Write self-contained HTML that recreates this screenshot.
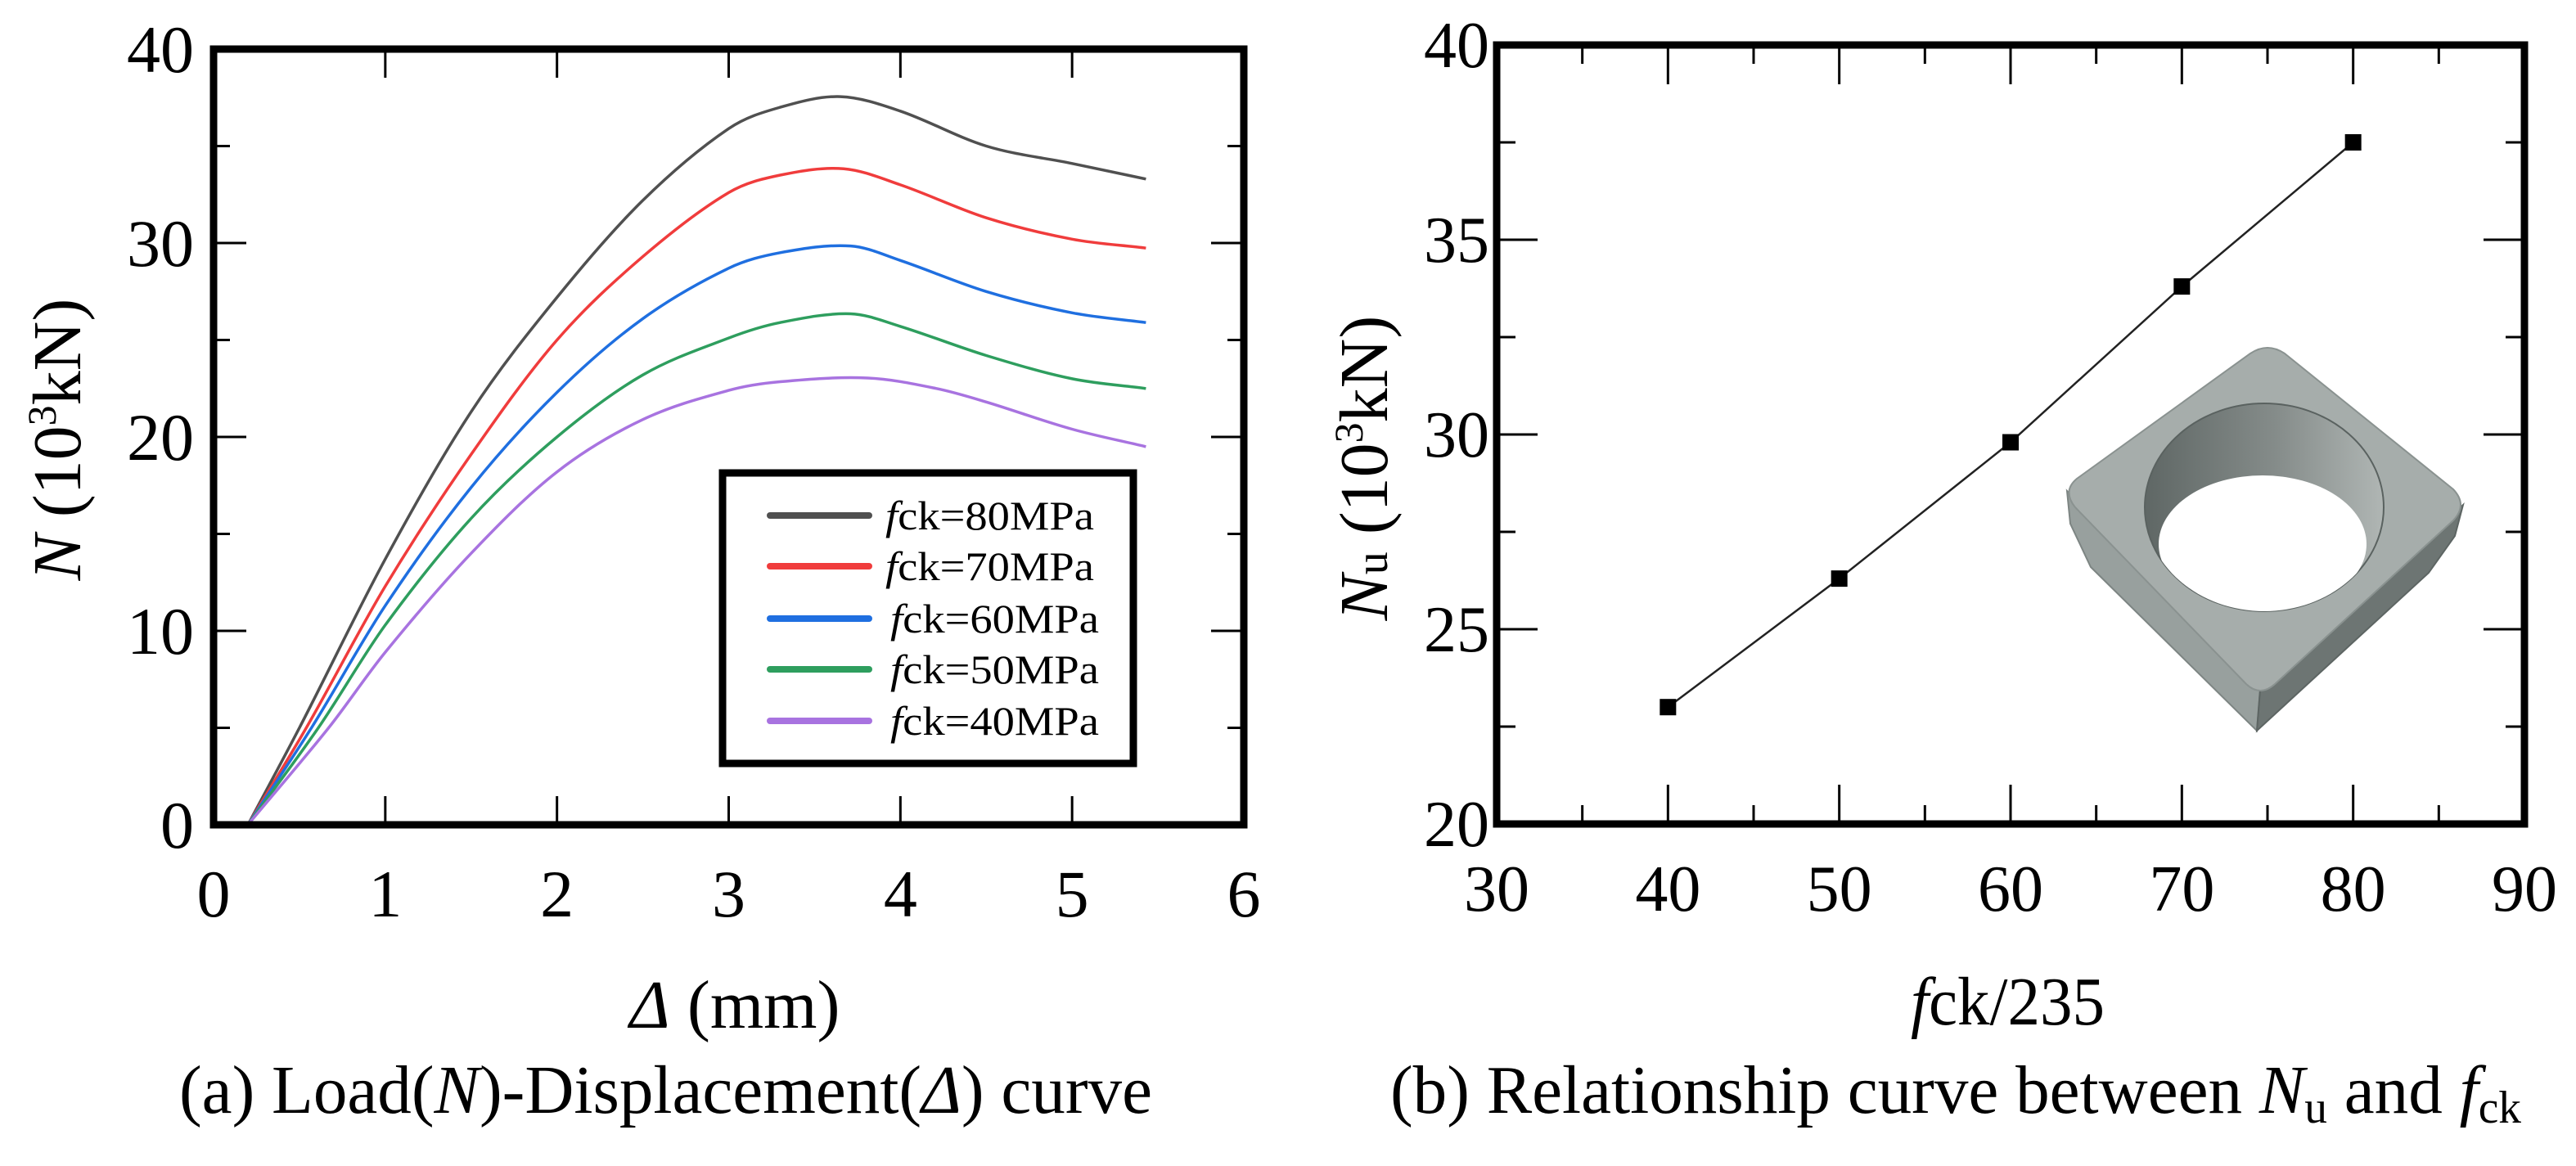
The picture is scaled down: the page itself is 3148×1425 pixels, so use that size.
<!DOCTYPE html>
<html><head><meta charset="utf-8"><style>
html,body{margin:0;padding:0;background:#fff;}
svg{display:block;font-family:"Liberation Serif","Times New Roman",serif;}
</style></head><body>
<svg id="fig" width="3148" height="1425" viewBox="0 0 3148 1425" xmlns="http://www.w3.org/2000/svg">
<g id="left"></g>
<g id="right"></g>
</svg>
<script>
// ---- Chart (a) data ----
const seriesLabels = ["80MPa","70MPa","60MPa","50MPa","40MPa"];
const seriesColors = ["#505050","#f03c3c","#1f6fe0","#2e9e5e","#a873e0"];
const xs80 = [0,0.2,0.5,1.0,1.5,2.0,2.5,3.0,3.3,3.65,4.0,4.5,5.0,5.43];
const ys80 = [0,0,5,13.7,21.3,27.2,32.2,35.9,37.0,37.55,36.8,35.0,34.1,33.3];
const xs70 = [0,0.2,0.54,1.0,1.5,2.0,2.5,3.0,3.3,3.67,4.0,4.5,5.0,5.43];
const ys70 = [0,0,5,12.3,19.1,25.0,29.3,32.6,33.5,33.83,33.0,31.3,30.2,29.74];
const xs60 = [0,0.2,0.57,1.0,1.5,2.0,2.5,3.0,3.3,3.71,4.0,4.5,5.0,5.43];
const ys60 = [0,0,5,11.3,17.4,22.3,26.1,28.7,29.5,29.85,29.1,27.5,26.4,25.9];
const xs50 = [0,0.2,0.61,1.0,1.5,2.0,2.5,3.0,3.3,3.71,4.0,4.5,5.0,5.43];
const ys50 = [0,0,5,10.3,15.8,20.0,23.2,25.1,25.9,26.35,25.7,24.2,23.0,22.5];
const xs40 = [0,0.2,0.67,1.0,1.5,2.0,2.5,3.0,3.3,3.81,4.21,4.5,5.0,5.43];
const ys40 = [0,0,5,8.9,14.0,18.2,20.9,22.4,22.85,23.04,22.5,21.8,20.4,19.5];
const xTicksA = [0,1,2,3,4,5,6];
const yTicksA = [0,10,20,30,40];
// ---- Chart (b) data ----
const fckValues = [40,50,60,70,80];
const nuValues = [23.0,26.3,29.8,33.8,37.5];
const xTicksB = [30,40,50,60,70,80,90];
const yTicksB = [20,25,30,35,40];

const NS="http://www.w3.org/2000/svg";
function mk(parent,tag,attrs){const e=document.createElementNS(NS,tag);for(const k in attrs)e.setAttribute(k,attrs[k]);parent.appendChild(e);return e;}

const AX0=261,AX1=1520,AY0=1008,AY1=60;
const xA=v=>AX0+(v-0)/6*(AX1-AX0);
const yA=v=>AY0-(v-0)/40*(AY0-AY1);
const BX0=1829,BX1=3085,BY0=1007,BY1=55;
const xB=v=>BX0+(v-30)/60*(BX1-BX0);
const yB=v=>BY0-(v-20)/20*(BY0-BY1);

const L=document.getElementById('left');
const R=document.getElementById('right');

// Catmull-Rom segments (non-uniform aware via finite differences)
function smooth(px,py){
  const n=px.length,m=new Array(n);
  for(let i=0;i<n;i++){
    const a=Math.max(0,i-1),b=Math.min(n-1,i+1);
    m[i]=(py[b]-py[a])/(px[b]-px[a]);
  }
  let s="";
  for(let i=0;i<n-1;i++){
    const h=(px[i+1]-px[i])/3;
    s+=" C"+(px[i]+h).toFixed(1)+","+(py[i]+m[i]*h).toFixed(1)+" "+(px[i+1]-h).toFixed(1)+","+(py[i+1]-m[i+1]*h).toFixed(1)+" "+px[i+1].toFixed(1)+","+py[i+1].toFixed(1);
  }
  return s;
}

// ---------- Chart (a) ----------
const allX=[xs80,xs70,xs60,xs50,xs40], allY=[ys80,ys70,ys60,ys50,ys40];
for(let s=0;s<5;s++){
  const px=allX[s].map(xA), py=allY[s].map(yA);
  const d="M"+px[0]+","+py[0]+" L"+px[1]+","+py[1]+smooth(px.slice(1),py.slice(1));
  const p=mk(L,'path',{d:d,fill:'none',stroke:seriesColors[s],'stroke-width':3.5});
  
  
}
const fa=mk(L,'rect',{x:AX0,y:AY1,width:AX1-AX0,height:AY0-AY1,fill:'none',stroke:'#000','stroke-width':9});


xTicksA.forEach(v=>{
  const x=xA(v);
  if(v>0&&v<6){
    const t1=mk(L,'line',{x1:x,y1:AY0,x2:x,y2:AY0-35,stroke:'#000','stroke-width':3});
    
    
    const t2=mk(L,'line',{x1:x,y1:AY1,x2:x,y2:AY1+35,stroke:'#000','stroke-width':3});
    
    
  }
  const tl=mk(L,'text',{x:x,y:1120,'font-size':82,'text-anchor':'middle'});
  tl.textContent=v;
  
  
});
for(let v=5;v<40;v+=5){
  const y=yA(v),len=(v%10===0)?40:20;
  const a=mk(L,'line',{x1:AX0,y1:y,x2:AX0+len,y2:y,stroke:'#000','stroke-width':3});
  
  
  const b=mk(L,'line',{x1:AX1,y1:y,x2:AX1-len,y2:y,stroke:'#000','stroke-width':3});
  
  
}
yTicksA.forEach(v=>{
  const t=mk(L,'text',{x:237,y:yA(v)+28,'font-size':82,'text-anchor':'end'});
  t.textContent=v;
  
  
});
const lg=mk(L,'g',{});


const lr=mk(lg,'rect',{x:883,y:578,width:502,height:355,fill:'#fff',stroke:'#000','stroke-width':9});


const legY=[630,692,756,818,881];
for(let s=0;s<5;s++){
  const e=mk(lg,'g',{});
  
  
  mk(e,'line',{x1:941,y1:legY[s],x2:1062,y2:legY[s],stroke:seriesColors[s],'stroke-width':8,'stroke-linecap':'round'});
  const t=mk(e,'text',{x:s<2?1082:1088,y:legY[s]+17,'font-size':50,textLength:255,lengthAdjust:'spacingAndGlyphs'});
  t.innerHTML='<tspan font-style="italic">f</tspan>ck='+seriesLabels[s];
}
const xt=mk(L,'text',{x:898,y:1256,'font-size':84,'text-anchor':'middle'});
xt.innerHTML='<tspan font-style="italic">Δ</tspan> (mm)';


const yt=mk(L,'text',{x:0,y:0,'font-size':84,'text-anchor':'middle',transform:'translate(98,537) rotate(-90)'});
yt.innerHTML='<tspan font-style="italic">N</tspan> (10<tspan font-size="50" dy="-30">3</tspan><tspan dy="30">kN)</tspan>';


const ca=mk(L,'text',{x:219,y:1360,'font-size':84,textLength:1189,lengthAdjust:'spacingAndGlyphs'});
ca.innerHTML='(a) Load(<tspan font-style="italic">N</tspan>)-Displacement(<tspan font-style="italic">Δ</tspan>) curve';



// ---------- Chart (b) ----------
const ic=mk(R,'g',{});


const defs=mk(ic,'defs',{});
defs.innerHTML='<linearGradient id="hg" x1="0" x2="1" y1="0" y2="0"><stop offset="0" stop-color="#5f6765"/><stop offset="0.55" stop-color="#858c8a"/><stop offset="1" stop-color="#b0b6b4"/></linearGradient><clipPath id="hc"><ellipse cx="2767" cy="620" rx="146" ry="127"/></clipPath>';
mk(ic,'polygon',{points:'2526,600 2762,843 2758,893 2555,693 2530,640',fill:'#98a09e',stroke:'#7d8583','stroke-width':2});
mk(ic,'polygon',{points:'3010,617 3000,655 2968,700 2758,893 2762,843',fill:'#6d7573',stroke:'#5d6563','stroke-width':2});
mk(ic,'path',{d:'M2750,432 Q2771,418 2792,432 L2998,598 Q3016,617 2998,636 L2780,836 Q2762,852 2745,836 L2536,620 Q2520,600 2538,585 Z',fill:'#a6adab',stroke:'#8a9290','stroke-width':2});
mk(ic,'ellipse',{cx:2767,cy:620,rx:146,ry:127,fill:'url(#hg)',stroke:'#5a6260','stroke-width':2});
mk(ic,'ellipse',{cx:2765,cy:665,rx:127,ry:84,fill:'#fff','clip-path':'url(#hc)'});
const lp=mk(R,'polyline',{points:fckValues.map((v,i)=>xB(v)+','+yB(nuValues[i])).join(' '),fill:'none',stroke:'#222','stroke-width':2.5});


fckValues.forEach((v,i)=>{
  const m=mk(R,'rect',{x:xB(v)-10,y:yB(nuValues[i])-10,width:20,height:20,fill:'#000'});
  
  
});
const fb=mk(R,'rect',{x:BX0,y:BY1,width:BX1-BX0,height:BY0-BY1,fill:'none',stroke:'#000','stroke-width':9});


for(let v=35;v<90;v+=5){
  const x=xB(v),len=(v%10===0)?48:23;
  const a=mk(R,'line',{x1:x,y1:BY0,x2:x,y2:BY0-len,stroke:'#000','stroke-width':3});
  
  
  const b=mk(R,'line',{x1:x,y1:BY1,x2:x,y2:BY1+len,stroke:'#000','stroke-width':3});
  
  
}
for(let v=22.5;v<40;v+=2.5){
  const y=yB(v),len=(v%5===0)?50:23;
  const a=mk(R,'line',{x1:BX0,y1:y,x2:BX0+len,y2:y,stroke:'#000','stroke-width':3});
  
  
  const b=mk(R,'line',{x1:BX1,y1:y,x2:BX1-len,y2:y,stroke:'#000','stroke-width':3});
  
  
}
xTicksB.forEach(v=>{
  const t=mk(R,'text',{x:xB(v),y:1113,'font-size':80,'text-anchor':'middle'});
  t.textContent=v;
  
  
});
yTicksB.forEach(v=>{
  const t=mk(R,'text',{x:1820,y:yB(v)+27,'font-size':80,'text-anchor':'end'});
  t.textContent=v;
  
  
});
const xtb=mk(R,'text',{x:2335,y:1252,'font-size':84,textLength:237,lengthAdjust:'spacingAndGlyphs'});
xtb.innerHTML='<tspan font-style="italic">f</tspan>ck/235';


const ytb=mk(R,'text',{x:0,y:0,'font-size':84,'text-anchor':'middle',transform:'translate(1695,572) rotate(-90)'});
ytb.innerHTML='<tspan font-style="italic">N</tspan><tspan font-size="56">u</tspan> (10<tspan font-size="50" dy="-30">3</tspan><tspan dy="30">kN)</tspan>';


const cb=mk(R,'text',{x:1699,y:1360,'font-size':84,textLength:1382,lengthAdjust:'spacingAndGlyphs'});
cb.innerHTML='(b) Relationship curve between <tspan font-style="italic">N</tspan><tspan font-size="56" dy="12">u</tspan><tspan dy="-12"> and </tspan><tspan font-style="italic">f</tspan><tspan font-size="56" dy="12">ck</tspan>';


</script>
</body></html>
